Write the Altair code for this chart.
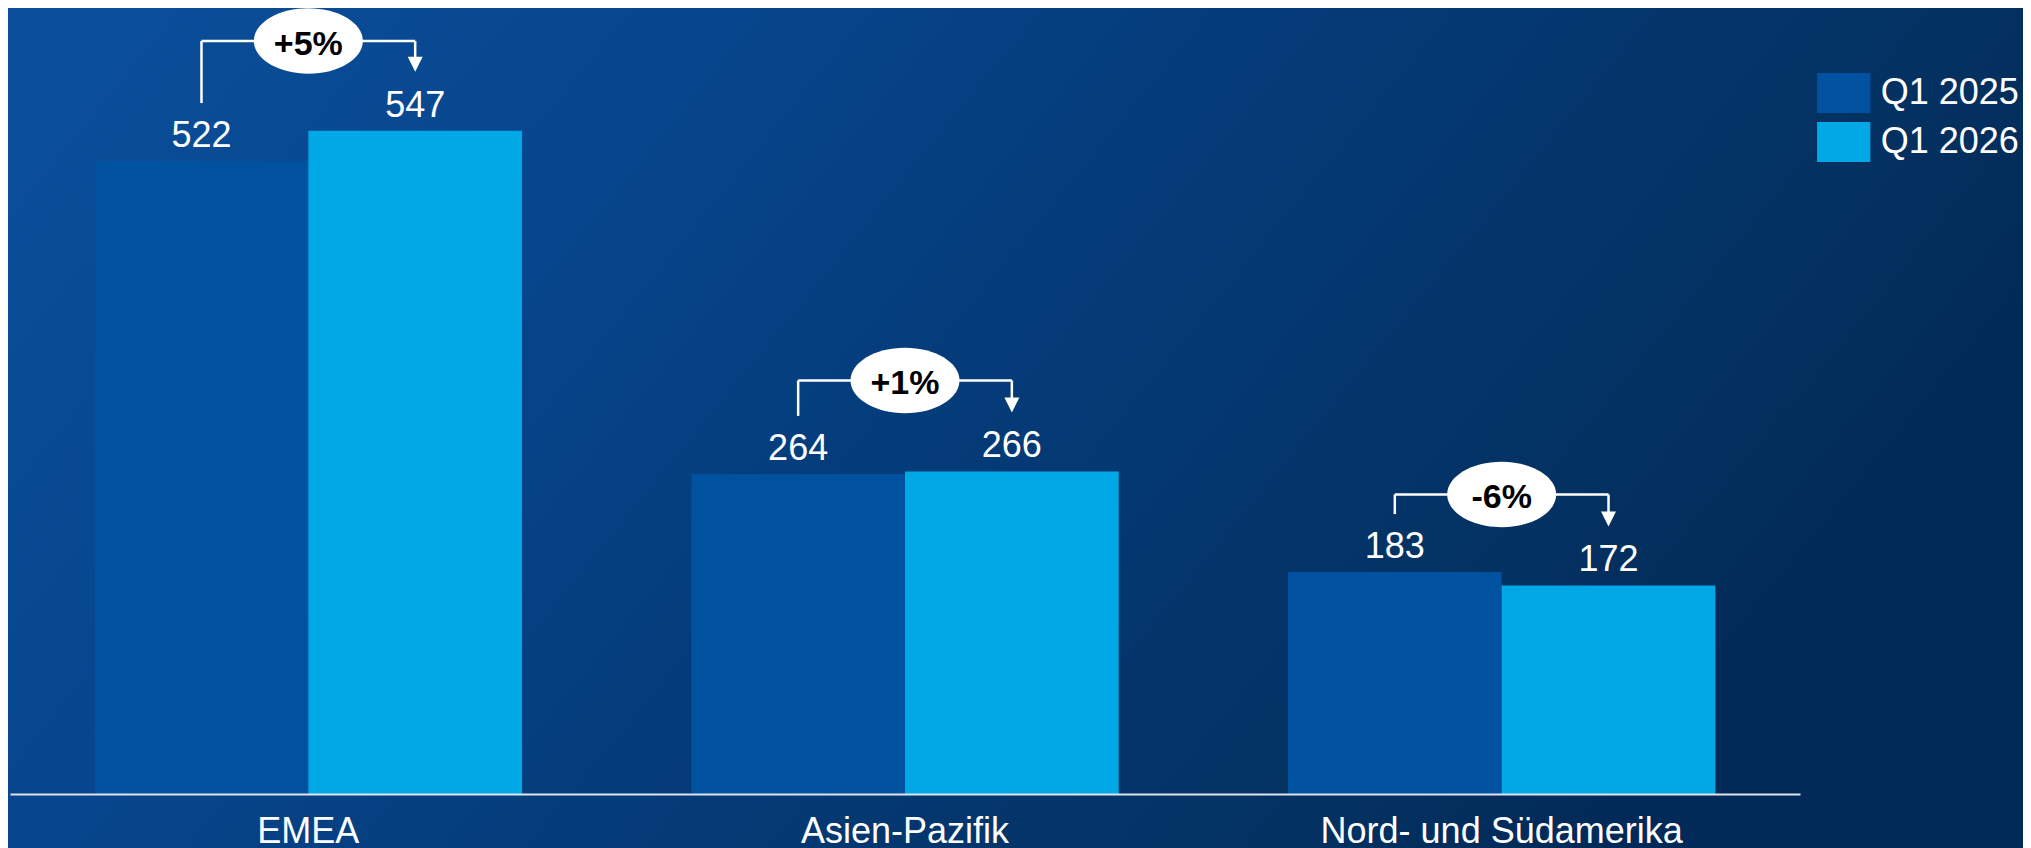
import altair as alt
import pandas as pd

# ---- data ----
regions = ["EMEA", "Asien-Pazifik", "Nord- und Südamerika"]
series = ["Q1 2025", "Q1 2026"]
q1_2025 = [522, 264, 183]
q1_2026 = [547, 266, 172]
changes = ["+5%", "+1%", "-6%"]
bracket_level = [621, 341, 247]   # height (data units) of the change brackets
colors = ["#0051a0", "#00a9e6"]

FONT = "Liberation Sans"

bars = pd.DataFrame({
    "region": regions * 2,
    "series": [series[0]] * len(regions) + [series[1]] * len(regions),
    "value": q1_2025 + q1_2026,
})
left = pd.DataFrame({"region": regions, "series": series[0], "level": bracket_level, "value": q1_2025})
right = pd.DataFrame({"region": regions, "series": series[1], "level": bracket_level, "value": q1_2026})
hline = pd.DataFrame({
    "region": regions * 2,
    "series": [series[0]] * len(regions) + [series[1]] * len(regions),
    "level": bracket_level * 2,
})
badge = pd.DataFrame({"region": regions, "level": bracket_level, "change": changes})

x_axis = alt.Axis(title=None, labelAngle=0, ticks=False, grid=False, domainColor="#dfe4ec",
                  domainWidth=2, labelFontSize=36, labelColor="white", labelFont=FONT,
                  labelPadding=20, labelLimit=0, zindex=1)
x_scale = alt.Scale(domain=regions, paddingInner=0.2837, paddingOuter=0.14185)
xo_scale = alt.Scale(domain=series, paddingInner=0, paddingOuter=0)
y_scale = alt.Scale(domain=[0, 646.6], nice=False, zero=True)


def X():
    return alt.X("region:N", scale=x_scale, axis=x_axis, sort=regions)


def XO():
    return alt.XOffset("series:N", scale=xo_scale, sort=series)


def Y(field):
    return alt.Y(f"{field}:Q", scale=y_scale, axis=None)


gradient = alt.Gradient(
    gradient="linear",
    stops=[
        alt.GradientStop(color="#0b4f9b", offset=0),
        alt.GradientStop(color="#07468e", offset=0.3),
        alt.GradientStop(color="#043a76", offset=0.6),
        alt.GradientStop(color="#03305f", offset=0.9),
        alt.GradientStop(color="#022a58", offset=1),
    ],
    x1=0, y1=0, x2=1, y2=0.35,
)

background = alt.Chart(pd.DataFrame({"a": [0]})).mark_rect(color=gradient).encode(
    x=alt.value(-2), x2=alt.value(2013), y=alt.value(-2), y2=alt.value(860)
)

rect_path = "M-1,-0.75H1V0.75H-1Z"

bar_layer = alt.Chart(bars).mark_bar().encode(
    x=X(), xOffset=XO(), y=Y("value"),
    color=alt.Color("series:N", scale=alt.Scale(domain=series, range=colors),
                    legend=alt.Legend(orient="none", legendX=1806.7, legendY=56, title=None,
                                      symbolType=rect_path, symbolSize=2841,
                                      symbolStrokeWidth=0, symbolOpacity=1,
                                      labelFontSize=36, labelColor="white", labelFont=FONT,
                                      labelOffset=10, rowPadding=2, labelLimit=0)),
)

value_labels = alt.Chart(bars).mark_text(
    fontSize=36, color="white", font=FONT, baseline="alphabetic", dy=-14
).encode(x=X(), xOffset=XO(), y=Y("value"), text="value:Q")

left_rule = alt.Chart(left).mark_rule(color="white", strokeWidth=2.5, y2Offset=-58).encode(
    x=X(), xOffset=XO(), y=Y("level"), y2="value:Q"
)
right_rule = alt.Chart(right).mark_rule(color="white", strokeWidth=2.5, y2Offset=-73).encode(
    x=X(), xOffset=XO(), y=Y("level"), y2="value:Q"
)
arrow_head = alt.Chart(right).mark_point(
    shape="M0,1L-1,-1L1,-1Z", size=225, filled=True, fill="white", opacity=1,
    strokeWidth=0, yOffset=-66.5
).encode(x=X(), xOffset=XO(), y=Y("value"))

h_rule = alt.Chart(hline).mark_line(color="white", strokeWidth=2.5).encode(
    x=X(), xOffset=XO(), y=Y("level"), detail="region:N"
)

ellipse_path = ("M-1,0C-1,-0.3314,-0.5523,-0.6,0,-0.6C0.5523,-0.6,1,-0.3314,1,0"
                "C1,0.3314,0.5523,0.6,0,0.6C-0.5523,0.6,-1,0.3314,-1,0Z")
ellipse = alt.Chart(badge).mark_point(
    shape=ellipse_path, size=11881, filled=True, fill="white", opacity=1, strokeWidth=0
).encode(x=X(), y=Y("level"))

change_text = alt.Chart(badge).mark_text(
    fontSize=34, fontWeight="bold", color="black", font=FONT, baseline="middle", dy=3.5
).encode(x=X(), y=Y("level"), text="change:N")

chart = alt.layer(
    background, bar_layer, value_labels, h_rule, left_rule, right_rule, arrow_head,
    ellipse, change_text
).properties(
    width=1790, height=784,
    autosize=alt.AutoSizeParams(type="none"),
    padding={"left": 2, "top": 2, "right": 223, "bottom": 62},
    background="#043a76",
).configure_view(stroke=None)

chart.save("out.html", embed_options={"renderer": "svg", "actions": False})
